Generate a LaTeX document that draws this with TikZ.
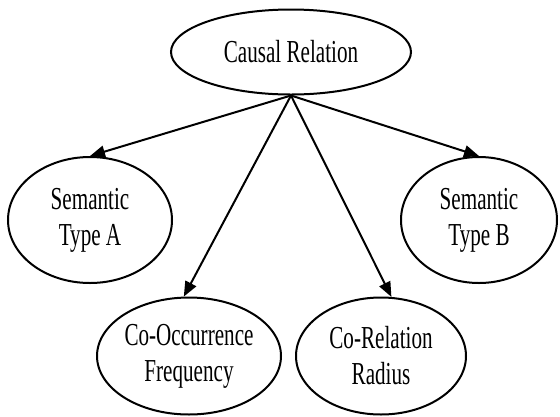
\documentclass[tikz,border=0pt]{standalone}
\usepackage{fontspec}
\setmainfont{Liberation Serif}[FakeStretch=0.66]
\usetikzlibrary{shapes.geometric,arrows.meta}

\begin{document}
\begin{tikzpicture}[
        x=1pt, y=-1pt,
        every node/.style={ellipse, draw, line width=2pt, inner sep=0pt, align=center,
            font=\fontsize{32}{36}\selectfont},
        link/.style={line width=2pt, -{Triangle[length=15pt, width=12pt]}}
    ]
        \useasboundingbox (0,0) rectangle (560,416);

        % Main nodes
        \node [minimum width=240pt, minimum height=85pt] (rel) at (291,52) {Causal Relation};
        \node [minimum width=164pt, minimum height=126pt] (semA) at (90,220) {Semantic\\Type A};
        \node [minimum width=156pt, minimum height=126pt] (semB) at (479,220) {Semantic\\Type B};
        \node [minimum width=184pt, minimum height=117pt] (coocc) at (189,356) {Co-Occurrence\\Frequency};
        \node [minimum width=170pt, minimum height=117pt] (corel) at (381,356) {Co-Relation\\Radius};

        % Links from the root
        \draw[link] (rel.south) -- (semA.north);
        \draw[link] (rel.south) -- (semB.north);
        \draw[link] (rel.south) -- (coocc.95);
        \draw[link] (rel.south) -- (corel.80);
    \end{tikzpicture}
\end{document}
